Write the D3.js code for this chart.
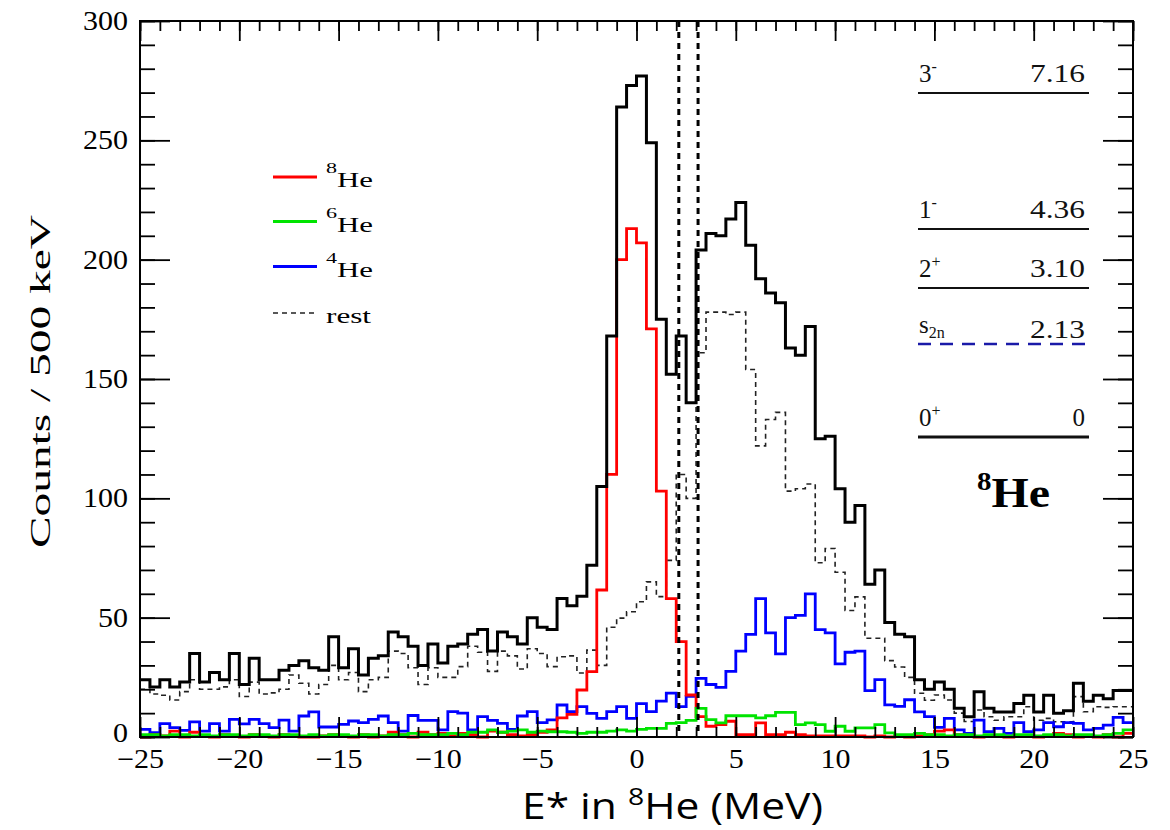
<!DOCTYPE html>
<html><head><meta charset="utf-8">
<script src="https://cdn.jsdelivr.net/npm/d3@7"></script>
<style>
body{margin:0;background:#fff}
.serif{font-family:"Liberation Serif","Times New Roman",Times,"DejaVu Serif",serif;}
.sans{font-family:"Open Sans","Liberation Sans",Arial,sans-serif;}
</style>
</head><body>
<svg id="chart" width="1170" height="830"></svg>
<script>
// ---------------- data ----------------
const xMin = -25, xMax = 25, binWidth = 0.5;
const yMax = 300;
const xTickValues = [-25,-20,-15,-10,-5,0,5,10,15,20,25];
const yTickValues = [0,50,100,150,200,250,300];

const totalCounts = [
 24,21,24,21,23,35,23,27,24,35,
 22,33,24,24,28,30,32,29,28,42,
 29,37,26,33,34,44,42,38,30,39,
 31,38,39,43,45,36,44,42,39,50,
 46,45,58,55,59,72,105,168,264,273,
 277,249,175,152,168,140,204,211,210,217,
 224,206,192,186,182,163,160,172,125,126,
 104,90,97,64,70,48,43,42,24,20,
 23,20,12,8.5,19,12,10.5,10.5,14,17.5,
 10.5,17.5,10,11,22.5,15,17.5,16,19.5,19.5];

const he8Counts = [
 0,1,0.5,2.5,0,2,0.5,0,1,0.5,
 0,1,0.5,0,1,0.5,0,0,0.5,1,
 0.5,0,1,0,0.5,2,1,0,2,1,
 1.5,0.5,1.5,1,0,2.5,2,1,0.5,1,
 2,3,8,9.5,19.7,27.4,61.6,110,200,213,
 207,171,103,58,40,17.6,8.5,4.5,5.2,6.6,
 1,1,5.9,1,1,2,1,0.5,0.5,0.5,
 0.5,0.5,0.5,0,0.5,0,0.5,0,0.5,1,
 2.5,3,1,0.5,0,0.5,0.5,0,0.5,0.5,
 0,0.5,1.5,1,0,0.5,0,1,0,1.5];

const he6Counts = [
 1,1,0.5,1,1,0.5,1,0.5,1,1,
 0.5,1,1,0.5,1,1,0.5,1,0.5,1,
 1,0.5,1,1,0.5,1,1,1.5,1,1,
 1,1.5,1,2,2,3,2,2.5,3,2,
 2.5,2.2,2.2,2,1.5,2,2,2.5,3,2.5,
 3.2,3.6,3.6,5.7,6,7,12,7.3,5.9,8.9,
 8.9,8.9,8,8.9,10.3,10.3,5.2,5.9,5.2,2.4,
 4.5,2.4,3.8,3.8,5.2,1.7,1,1,1.5,1,
 1,0.5,1,1,0.5,1,1,0.5,1,1,
 0.5,1,1,0.5,1,1,0.5,1,1.5,3];

const he4Counts = [
 3.2,1.8,5.6,3.9,2.8,6.3,2.5,5.6,2.5,7.4,
 5.5,7.4,5.6,3.9,7.1,2.5,8.8,10.5,4.2,4.2,
 5.3,6.7,6,7.4,8.8,6,2.5,9,7,7,
 3,10.6,10,3,8.5,7,5.7,3.2,8.8,10.6,
 6,7.2,13.4,10.6,12.7,9.9,7.8,10.6,12.7,7.8,
 14,10.6,15,18.4,12.7,17,24.6,22,20.8,27.5,
 36,43,58,43.6,34.8,50,51,60,45,43.6,
 30.6,35.5,36,19.4,24,13.5,12.8,15.6,10.5,8.5,
 4,7.8,3,1.5,7.1,2.2,3.6,1.5,6,2.2,
 3,6,4.3,6,5.7,3,3.6,5,8.2,6];

const restCounts = [
 20,18,17.5,15.5,19,24,20,20,21,24,
 17,23,18,18.5,20,26,22.5,18,22,30,
 24,27,19,24,25,36,35,29,22,29,
 25,25,29.5,38,35.5,27.5,36,34,28.5,37,
 35,29.5,33.6,34,26.8,36.4,30,46,49.8,52.5,
 56.7,65,58.8,74,110,100,161,178,178,177,
 178,154,122,133,136,103,104,106,73,79,
 69,53,58.7,41.4,41.4,32,29.3,25,18.3,15.4,
 17.6,15.5,10,6.5,11.3,8.5,7,8.5,8.5,12.7,
 7,7.8,6.4,6.4,16.9,10.6,12.7,12.4,12.7,12.7];

// thresholds drawn as vertical dashed lines (MeV)
const thresholdEnergies = [2.13, 3.10];

// level scheme of 8He
const levelSpins   = [["3","-"],["1","-"],["2","+"],["s","2n"],["0","+"]];
const levelValues  = ["7.16","4.36","3.10","2.13","0"];
const levelKinds   = ["level","level","level","threshold","ground"];

const legendNames = [["8","He"],["6","He"],["4","He"],[null,"rest"]];

// ---------------- layout ----------------
const L = 140, R = 1133, T = 21, B = 737;
const levelLineY = [93, 229, 288, 344, 437];
const legendLineY = [177, 221.5, 266.5, 313];

const svg = d3.select("#chart");
const x = d3.scaleLinear().domain([xMin, xMax]).range([L, R]);
const y = d3.scaleLinear().domain([0, yMax]).range([B, T]);

function histPath(vals){
  const pts = vals.map((v,i) => [x(xMin + i*binWidth), y(v)]);
  pts.push([x(xMin + vals.length*binWidth), y(vals[vals.length-1])]);
  return d3.line().curve(d3.curveStepAfter)(pts);
}

// histograms
const series = [
  {vals: restCounts, color:"#222", w:1.6, dash:"5,4"},
  {vals: he4Counts, color:"#0000ff", w:2.8},
  {vals: he8Counts, color:"#ff0000", w:2.8},
  {vals: he6Counts, color:"#00e400", w:2.8},
  {vals: totalCounts, color:"#000", w:3}
];
series.forEach(s => {
  svg.append("path").attr("d", histPath(s.vals))
    .attr("fill","none").attr("stroke", s.color).attr("stroke-width", s.w)
    .attr("stroke-dasharray", s.dash || null).attr("stroke-linejoin","miter");
});

// threshold vertical lines
thresholdEnergies.forEach(e => {
  svg.append("line").attr("x1", x(e)).attr("x2", x(e)).attr("y1", T).attr("y2", B)
    .attr("stroke","#000").attr("stroke-width",3).attr("stroke-dasharray","6,5");
});

// axes
function styleAxis(g){
  g.attr("font-family", null).attr("font-size", null);
  g.select(".domain").remove();
  g.selectAll(".tick line").attr("stroke","#000").attr("stroke-width",1.8);
  g.selectAll(".tick text").attr("class","serif").style("font-size","27px").attr("fill","#000")
    .each(function(){
      const s = this.textContent;
      if(!s) return;
      const w = s.replace("−","").length*15 + (s.includes("−") ? 17 : 0);
      d3.select(this).attr("textLength", w).attr("lengthAdjust","spacingAndGlyphs");
    });
}
const yAxisG = svg.append("g").attr("transform",`translate(${L},0)`)
  .call(d3.axisLeft(y).tickValues(yTickValues).tickSize(-30).tickPadding(12).tickFormat(d3.format("d")))
  .call(styleAxis);
// lift the "0" label slightly so it does not touch the x label below it
yAxisG.selectAll(".tick").filter(d => d === 0).select("text").attr("y", -4);
svg.append("g").attr("transform",`translate(${L},0)`)
  .call(d3.axisLeft(y).tickValues(d3.range(0, yMax+1, 10)).tickSize(-15).tickFormat(""))
  .call(styleAxis);
svg.append("g").attr("transform",`translate(${R},0)`)
  .call(d3.axisRight(y).tickValues(yTickValues).tickSize(-30).tickFormat(""))
  .call(styleAxis);
svg.append("g").attr("transform",`translate(${R},0)`)
  .call(d3.axisRight(y).tickValues(d3.range(0, yMax+1, 10)).tickSize(-15).tickFormat(""))
  .call(styleAxis);
svg.append("g").attr("transform",`translate(0,${B})`)
  .call(d3.axisBottom(x).tickValues(xTickValues).tickSize(-20).tickPadding(12).tickFormat(d3.format("d")))
  .call(styleAxis);
svg.append("g").attr("transform",`translate(0,${B})`)
  .call(d3.axisBottom(x).tickValues(d3.range(xMin, xMax+1, 1)).tickSize(-10).tickFormat(""))
  .call(styleAxis);
svg.append("g").attr("transform",`translate(0,${T})`)
  .call(d3.axisTop(x).tickValues(xTickValues).tickSize(-20).tickFormat(""))
  .call(styleAxis);
svg.append("g").attr("transform",`translate(0,${T})`)
  .call(d3.axisTop(x).tickValues(d3.range(xMin, xMax+1, 1)).tickSize(-10).tickFormat(""))
  .call(styleAxis);

// frame
svg.append("rect").attr("x",L).attr("y",T).attr("width",R-L).attr("height",B-T)
  .attr("fill","none").attr("stroke","#000").attr("stroke-width",2);

// axis titles
svg.append("text").attr("class","serif").attr("transform","translate(50,381.5) rotate(-90)")
  .attr("text-anchor","middle").style("font-size","30px")
  .attr("textLength",333).attr("lengthAdjust","spacingAndGlyphs")
  .text("Counts / 500 keV");

const xt = svg.append("text").attr("class","sans").attr("x",522).attr("y",819)
  .style("font-size","36px")
  .attr("textLength",301).attr("lengthAdjust","spacingAndGlyphs");
xt.append("tspan").text("E* in ");
xt.append("tspan").style("font-size","24px").attr("dy",-14).text("8");
xt.append("tspan").attr("dy",14).text("He (MeV)");

// legend
const legendColors = ["#ff0000","#00e400","#0000ff","#222"];
legendNames.forEach((nm,i) => {
  const ly = legendLineY[i];
  const isRest = nm[0] === null;
  svg.append("line").attr("x1",273).attr("x2",317).attr("y1",ly).attr("y2",ly)
    .attr("stroke",legendColors[i]).attr("stroke-width", isRest?1.6:3)
    .attr("stroke-dasharray", isRest?"5,4":null);
  const t = svg.append("text").attr("class","serif").attr("x",326).attr("y",ly+10)
    .style("font-size","21px").attr("lengthAdjust","spacingAndGlyphs");
  if(!isRest){
    t.attr("textLength",47);
    t.append("tspan").style("font-size","15px").attr("dy",-14).text(nm[0]);
    t.append("tspan").attr("dy",14).text(nm[1]);
  } else {
    t.attr("textLength",45).text(nm[1]);
  }
});

// level scheme
levelSpins.forEach((sp,i) => {
  const ly = levelLineY[i];
  const kind = levelKinds[i];
  svg.append("line").attr("x1",918).attr("x2",1089).attr("y1",ly).attr("y2",ly)
    .attr("stroke", kind==="threshold" ? "#1a1aa8" : "#111")
    .attr("stroke-width", kind==="ground" ? 3 : (kind==="threshold"?2.5:2.2))
    .attr("stroke-dasharray", kind==="threshold" ? "13,9" : null);
  const t = svg.append("text").attr("class","serif").attr("x",919).attr("y",ly-11)
    .style("font-size","25px").attr("fill","#111");
  t.append("tspan").text(sp[0]);
  if(kind==="threshold"){
    t.append("tspan").style("font-size","16px").attr("dy",5).text(sp[1]);
  } else {
    t.append("tspan").style("font-size","16px").attr("dy",-10).text(sp[1]);
  }
  const vt = svg.append("text").attr("class","serif").attr("x",1085).attr("y",ly-(kind==="threshold"?6:11))
    .attr("text-anchor","end").style("font-size","25px").attr("fill","#111")
    .text(levelValues[i]);
  if(levelValues[i].length > 1) vt.attr("textLength",55).attr("lengthAdjust","spacingAndGlyphs");
});

const he = svg.append("text").attr("class","serif").attr("x",977).attr("y",507)
  .attr("font-weight","bold").style("font-size","43px")
  .attr("textLength",73).attr("lengthAdjust","spacingAndGlyphs");
he.append("tspan").style("font-size","26px").attr("dy",-17).text("8");
he.append("tspan").attr("dy",17).text("He");
</script>
</body></html>
